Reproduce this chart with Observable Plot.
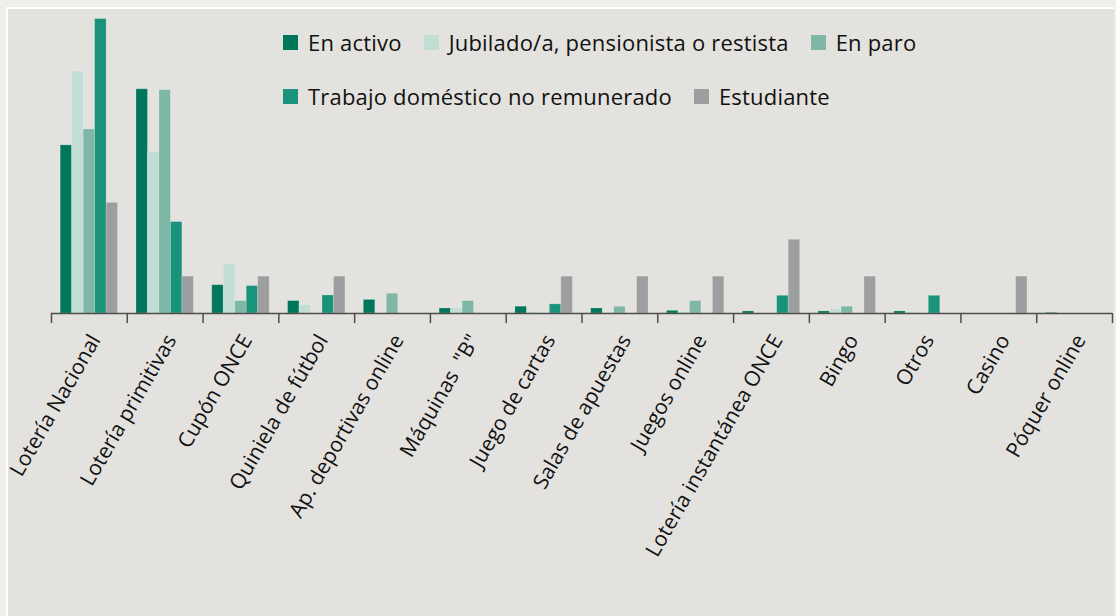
<!DOCTYPE html>
<html><head><meta charset="utf-8">
<script src="https://cdn.jsdelivr.net/npm/d3@7"></script>
<script src="https://cdn.jsdelivr.net/npm/@observablehq/plot@0.6"></script>
<style>
html,body{margin:0;padding:0;background:#efeeea;width:1116px;height:616px;overflow:hidden;font-family:"Open Sans",sans-serif;}
#panel{position:absolute;left:6px;top:7px;width:1106px;height:609px;background:#e3e2de;border-left:2px solid #fff;border-top:2px solid #fff;}
#chart{position:absolute;left:0;top:0;}
#legend{position:absolute;left:283px;top:28px;display:flex;flex-wrap:wrap;width:800px;row-gap:13px;font-size:22px;color:#111;letter-spacing:0.2px;}
.item{display:flex;align-items:center;margin-right:22px;height:28px;}
.sw{width:15px;height:15px;margin-right:10px;}
.br{flex-basis:100%;height:0;}
</style></head>
<body>
<div id="panel"></div>
<div id="chart"></div>
<div id="legend"></div>
<script>
const categories = ["Lotería Nacional","Lotería primitivas","Cupón ONCE","Quiniela de fútbol","Ap. deportivas online","Máquinas  \"B\"","Juego de cartas","Salas de apuestas","Juegos online","Lotería instantánea ONCE","Bingo","Otros","Casino","Póquer online"];
const series = ["En activo","Jubilado/a, pensionista o restista","En paro","Trabajo doméstico no remunerado","Estudiante"];
const enActivo   = [57, 76, 9.6, 4.2, 4.6, 1.7, 2.3, 1.7, 0.9, 0.7, 0.7, 0.7, 0, 0.2];
const jubilado   = [82, 54.8, 16.8, 2.9, 0, 1.8, 0.6, 0, 0.6, 0, 1.5, 0.5, 0, 0];
const enParo     = [62.4, 75.7, 4.2, 0, 6.7, 4.2, 0, 2.3, 4.2, 0, 2.3, 0, 0, 0];
const trabajo    = [99.8, 31, 9.3, 6.1, 0, 0, 3.1, 0, 0, 6.0, 0, 6.0, 0, 0];
const estudiante = [37.5, 12.5, 12.5, 12.5, 0, 0, 12.5, 12.5, 12.5, 25, 12.5, 0, 12.5, 0];
const colors = ["#00765a","#c2ddd4","#7eb7a6","#1a937b","#9d9e9f"];

const seriesValues = [enActivo, jubilado, enParo, trabajo, estudiante];
const rows = [];
categories.forEach((c, i) => series.forEach((s, j) => rows.push({cat: c, i, series: s, value: seriesValues[j][i]})));

const inner = d3.scaleBand().domain(series).range([0, 1]).paddingInner(0).paddingOuter(0.8);

const chart = Plot.plot({
  width: 1116, height: 616,
  marginLeft: 51, marginRight: 4, marginTop: 18, marginBottom: 303,
  style: {background: "transparent", fontFamily: "'Open Sans', sans-serif", color: "#111"},
  x: {type: "linear", domain: [0, categories.length], axis: null},
  y: {domain: [0, 100], axis: null},
  color: {domain: series, range: colors},
  marks: [
    Plot.rectY(rows.filter(d => d.value > 0), {
      x1: d => d.i + inner(d.series),
      x2: d => d.i + inner(d.series) + inner.bandwidth(),
      y1: 0, y2: "value", fill: "series",
      stroke: "#ffffff", strokeOpacity: 0.25, strokeWidth: 0.8
    }),
    Plot.ruleY([0], {stroke: "#4d4d4d", strokeWidth: 1.5}),
    Plot.axisX({ticks: d3.range(0, categories.length + 1), tickSize: 10, tickFormat: () => "", stroke: "#4d4d4d", strokeWidth: 1.5}),
    Plot.axisX({
      ticks: categories.map((c, i) => i + 0.5),
      tickFormat: v => categories[Math.floor(v)],
      tickSize: 0, tickPadding: 23, tickRotate: -60,
      fontSize: 21, fill: "#111", dx: 6
    })
  ]
});
document.getElementById("chart").appendChild(chart);

const leg = document.getElementById("legend");
series.forEach((s, j) => {
  const it = document.createElement("div");
  it.className = "item";
  it.innerHTML = `<div class="sw" style="background:${colors[j]}"></div><span>${s}</span>`;
  leg.appendChild(it);
  if (j === 2) { const br = document.createElement("div"); br.className = "br"; leg.appendChild(br); }
});
</script>
</body></html>
